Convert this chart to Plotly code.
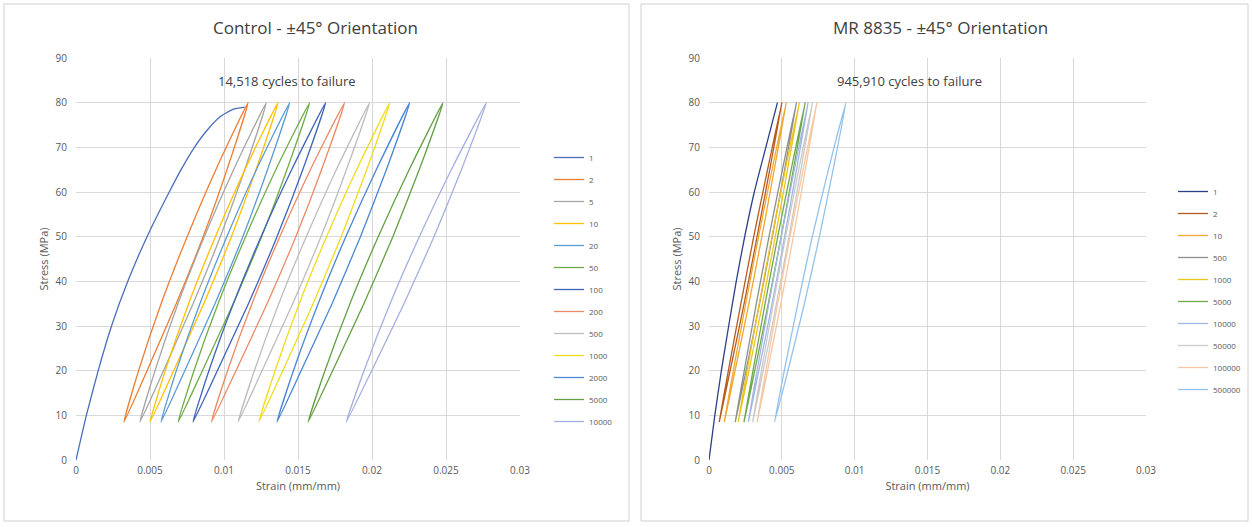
import plotly.graph_objects as go

W, H = 1252, 527

# ---------------- data ----------------
LOOP_STRESS = [8.5, 20, 35, 50, 65, 80, 65, 50, 35, 20, 8.5]

# Control specimen
CTRL_NAMES = ["1", "2", "5", "10", "20", "50", "100", "200", "500", "1000", "2000", "5000", "10000"]
CTRL_FIRST_STRESS = [0, 10, 20, 30, 40, 50, 60, 65, 70, 74, 77, 78.5, 79]
CTRL_FIRST_STRAIN = [0, 0.0007, 0.0015, 0.0024, 0.0035, 0.0048, 0.0063, 0.0071, 0.0080, 0.0089, 0.0098, 0.0106, 0.0114]
ctrl_2 = [.00324, .00423, .00575, .00751, .00945, .01163, .01020, .00859, .00677, .00480, .00324]
ctrl_5 = [.00432, .00534, .00689, .00867, .01065, .01286, .01140, .00975, .00791, .00591, .00432]
ctrl_10 = [.0050, .00603, .00761, .00942, .01141, .01365, .01216, .01050, .00863, .00660, .0050]
ctrl_20 = [.00574, .00678, .00837, .01019, .01219, .01444, .01294, .01127, .00939, .00735, .00574]
ctrl_50 = [.0069, .00797, .00960, .01146, .01350, .01579, .01425, .01254, .01062, .00854, .0069]
ctrl_100 = [.0079, .00898, .01063, .01250, .01457, .01687, .01532, .01358, .01165, .00955, .0079]
ctrl_200 = [.00915, .01024, .01189, .01377, .01584, .01815, .01659, .01485, .01291, .01081, .00915]
ctrl_500 = [.01095, .01205, .01370, .01556, .01759, .01984, .01827, .01655, .01464, .01257, .01095]
ctrl_1000 = [.01235, .01345, .01508, .01693, .01896, .0212, .01964, .01792, .01602, .01397, .01235]
ctrl_2000 = [.01358, .01469, .01636, .01823, .02029, .02255, .02097, .01922, .01730, .01521, .01358]
ctrl_5000 = [.01568, .01682, .01851, .02042, .02251, .0248, .02319, .02141, .01945, .01734, .01568]
ctrl_10000 = [.01826, .01946, .02122, .02320, .02536, .02773, .02604, .02419, .02216, .01998, .01826]
CTRL_LOOPS = [ctrl_2, ctrl_5, ctrl_10, ctrl_20, ctrl_50, ctrl_100, ctrl_200,
              ctrl_500, ctrl_1000, ctrl_2000, ctrl_5000, ctrl_10000]
CTRL_COLORS = ["#4a6fba", "#ed7d31", "#a5a5a5", "#ffc000", "#5b9bd5", "#70ad47", "#3e63b8",
               "#ec8a66", "#bdbdbd", "#f2dc1c", "#4a86d4", "#63a043", "#a4b0df"]

# MR 8835 specimen
MR_NAMES = ["1", "2", "10", "500", "1000", "5000", "10000", "50000", "100000", "500000"]
MR_FIRST_STRESS = [0, 10, 20, 30, 40, 50, 60, 70, 80]
MR_FIRST_STRAIN = [0, 0.0004, 0.00085, 0.00135, 0.00187, 0.00245, 0.00311, 0.0039, 0.0047]
mr_2 = [.0007, .00133, .00219, .00307, .00402, .0050, .00417, .00330, .00241, .00145, .0007]
mr_10 = [.00105, .00167, .00252, .00340, .00433, .0053, .00448, .00363, .00274, .00179, .00105]
mr_500 = [.0018, .00242, .00325, .00412, .00504, .0060, .00519, .00435, .00347, .00254, .0018]
mr_1000 = [.0020, .00262, .00345, .00432, .00524, .0062, .00539, .00455, .00367, .00274, .0020]
mr_5000 = [.0024, .00302, .00385, .00472, .00564, .0066, .00579, .00495, .00407, .00314, .0024]
mr_10000 = [.0027, .00330, .00411, .00496, .00586, .0068, .00601, .00519, .00433, .00342, .0027]
mr_50000 = [.0030, .00360, .00441, .00526, .00616, .0071, .00631, .00549, .00463, .00372, .0030]
mr_100000 = [.0033, .00390, .00471, .00556, .00646, .0074, .00661, .00579, .00493, .00402, .0033]
mr_500000 = [.0045, .00517, .00610, .00709, .00820, .0094, .00852, .00758, .00655, .00542, .0045]
MR_LOOPS = [mr_2, mr_10, mr_500, mr_1000, mr_5000, mr_10000, mr_50000, mr_100000, mr_500000]
MR_COLORS = ["#2d3f86", "#b65a1e", "#f0a830", "#8e8e8e", "#ecc41e", "#6da84c",
             "#a3b6e2", "#c9c9c9", "#f8c6a0", "#95c2ea"]

TITLES = ["Control - ±45° Orientation", "MR 8835 - ±45° Orientation"]
NOTES = ["14,518 cycles to failure", "945,910 cycles to failure"]
X_TICKS = [0, 0.005, 0.01, 0.015, 0.02, 0.025, 0.03]
X_TICK_LABELS = ["0", "0.005", "0.01", "0.015", "0.02", "0.025", "0.03"]
Y_TICKS = [0, 10, 20, 30, 40, 50, 60, 70, 80, 90]
Y_TITLE = "Stress (MPa)"
X_TITLE = "Strain (mm/mm)"

# ---------------- figure ----------------
FONT = "Open Sans"
TXT = "#595959"
GRID = "#d9d9d9"
fig = go.Figure()


def add_series(x, y, name, color, xa, ya, leg):
    fig.add_trace(go.Scatter(
        x=x, y=y, name=name, mode="lines",
        line=dict(color=color, width=1.3, shape="spline", smoothing=0.5),
        xaxis=xa, yaxis=ya, legend=leg, legendgroup=leg + name,
    ))


add_series(CTRL_FIRST_STRAIN, CTRL_FIRST_STRESS, CTRL_NAMES[0], CTRL_COLORS[0], "x", "y", "legend")
for nm, col, loop in zip(CTRL_NAMES[1:], CTRL_COLORS[1:], CTRL_LOOPS):
    add_series(loop, LOOP_STRESS, nm, col, "x", "y", "legend")

add_series(MR_FIRST_STRAIN, MR_FIRST_STRESS, MR_NAMES[0], MR_COLORS[0], "x2", "y2", "legend2")
for nm, col, loop in zip(MR_NAMES[1:], MR_COLORS[1:], MR_LOOPS):
    add_series(loop, LOOP_STRESS, nm, col, "x2", "y2", "legend2")


def px(x):
    return x / W


def py(y):
    return 1 - y / H


axis_common = dict(showgrid=True, gridcolor=GRID, gridwidth=1, zeroline=False,
                   showline=False, ticks="", automargin=False,
                   tickfont=dict(family=FONT, size=10, color=TXT))

xa = dict(axis_common, range=[0, 0.03], tickvals=X_TICKS, ticktext=X_TICK_LABELS,
          ticklabelstandoff=3,
          title=dict(text=X_TITLE, font=dict(family=FONT, size=11, color=TXT), standoff=6))
ya = dict(axis_common, range=[0, 90], tickvals=Y_TICKS, ticklabelstandoff=8,
          title=dict(text=Y_TITLE, font=dict(family=FONT, size=11, color=TXT), standoff=4))

fig.update_layout(
    width=W, height=H,
    margin=dict(l=0, r=0, t=0, b=0, autoexpand=False),
    paper_bgcolor="white", plot_bgcolor="white",
    showlegend=True,
    xaxis=dict(xa, domain=[px(76), px(520)], anchor="y"),
    yaxis=dict(ya, domain=[py(460), py(58)], anchor="x"),
    xaxis2=dict(xa, domain=[px(709), px(1146)], anchor="y2"),
    yaxis2=dict(ya, domain=[py(460), py(58)], anchor="x2"),
    legend=dict(x=px(549), y=py(143), xanchor="left", yanchor="top",
                font=dict(family=FONT, size=8, color=TXT), bgcolor="rgba(0,0,0,0)",
                tracegroupgap=3, itemwidth=30),
    legend2=dict(x=px(1173), y=py(177), xanchor="left", yanchor="top",
                 font=dict(family=FONT, size=8, color=TXT), bgcolor="rgba(0,0,0,0)",
                 tracegroupgap=3, itemwidth=30),
)

# panel borders
for x0, x1 in [(4, 629), (641, 1248)]:
    fig.add_shape(type="rect", xref="paper", yref="paper",
                  x0=px(x0), x1=px(x1), y0=py(521), y1=py(4),
                  line=dict(color="#d0d0d0", width=1), fillcolor="rgba(0,0,0,0)")

# titles and notes
for cx, title in zip([315, 940], TITLES):
    fig.add_annotation(text=title, xref="paper", yref="paper", x=px(cx), y=py(28),
                       xanchor="center", yanchor="middle", showarrow=False,
                       font=dict(family=FONT, size=17, color="#404040"))
for cx, note in zip([287, 910], NOTES):
    fig.add_annotation(text=note, xref="paper", yref="paper", x=px(cx), y=py(81),
                       xanchor="center", yanchor="middle", showarrow=False,
                       font=dict(family=FONT, size=13, color="#404040"))

fig.write_html("out.html")
